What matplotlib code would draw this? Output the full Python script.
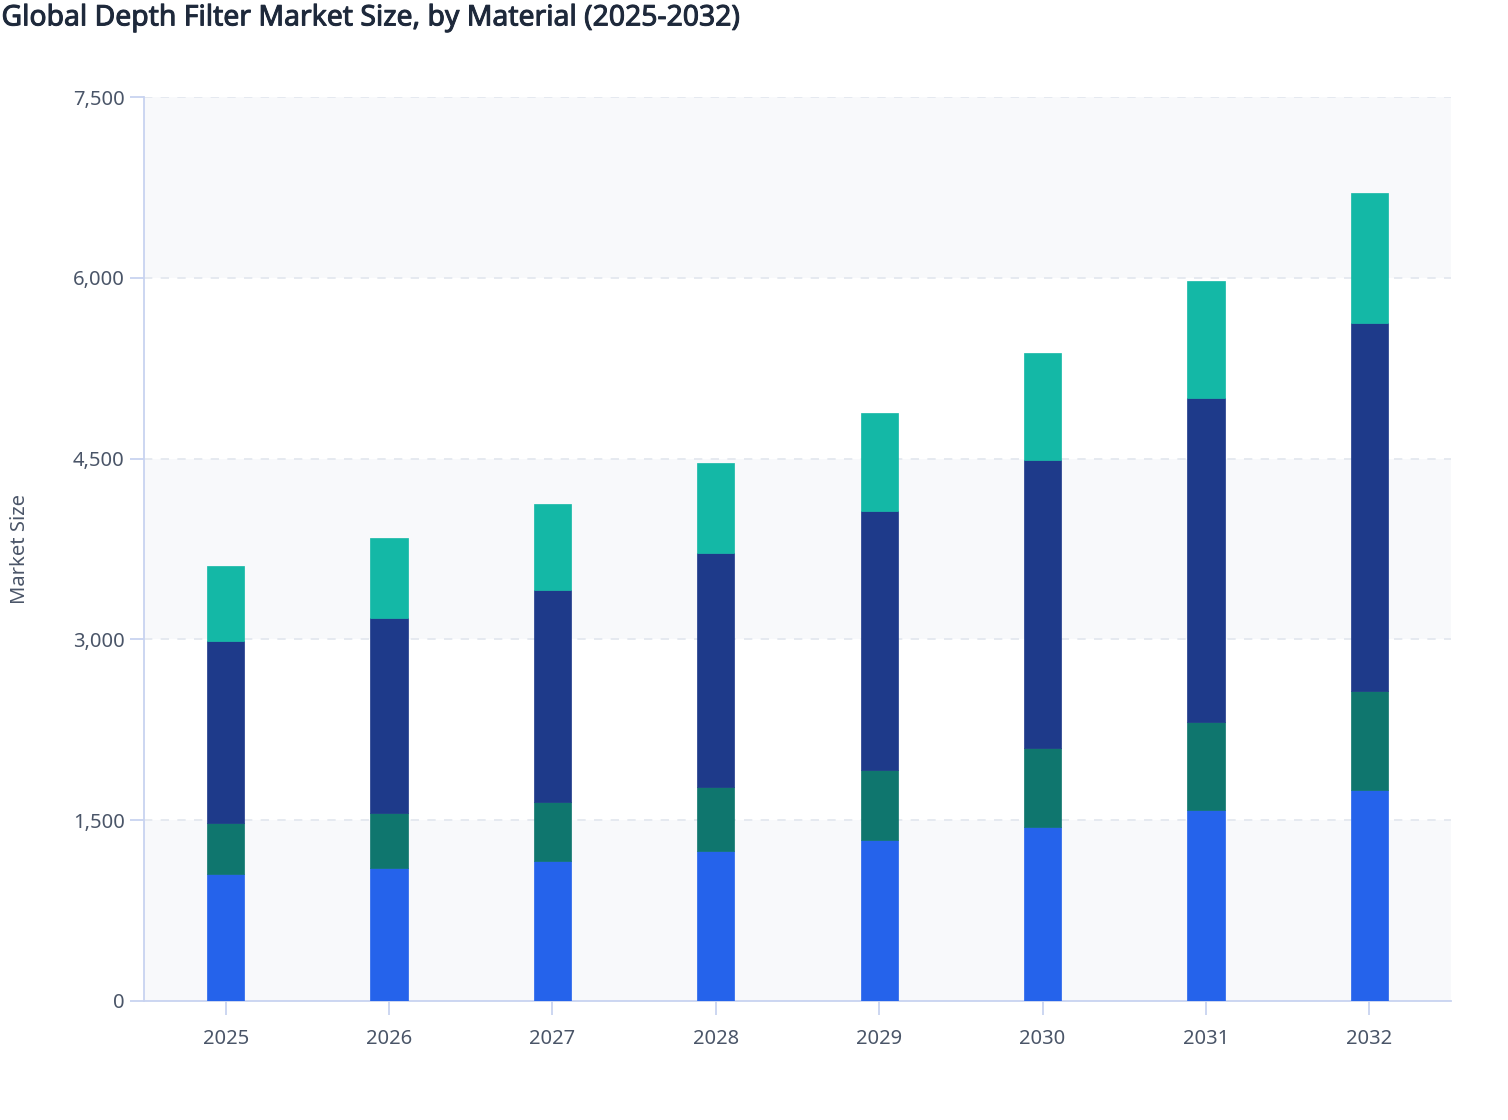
import matplotlib
matplotlib.use("Agg")
import matplotlib.pyplot as plt
import matplotlib.patheffects as pe
import numpy as np

years = ["2025", "2026", "2027", "2028", "2029", "2030", "2031", "2032"]
seg1 = [1054, 1103, 1162, 1245, 1336, 1444, 1585, 1751]   # bright blue
seg2 = [423, 457, 489, 531, 581, 655, 730, 821]           # dark green
seg3 = [1510, 1618, 1759, 1941, 2149, 2390, 2688, 3053]   # navy
seg4 = [622, 664, 714, 747, 813, 887, 971, 1079]          # teal
colors = ["#2563eb", "#0f766e", "#1e3a8a", "#14b8a6"]
yticks = [0, 1500, 3000, 4500, 6000, 7500]
ytick_labels = ["0", "1,500", "3,000", "4,500", "6,000", "7,500"]

plt.rcParams['font.family'] = ['Noto Sans', 'DejaVu Sans']

fig = plt.figure(figsize=(15.08, 11.2), dpi=100)
ax = fig.add_axes([144/1508, 119/1120, (1451-144)/1508, (1001-97)/1120])

x = np.arange(len(years))
bottom = np.zeros(len(years))
for vals, c in zip([seg1, seg2, seg3, seg4], colors):
    ax.bar(x, vals, width=0.228, bottom=bottom, color=c, edgecolor=c, linewidth=0.5, zorder=3)
    bottom += np.array(vals)

ax.set_xlim(-0.5, len(years) - 0.5)
ax.set_ylim(0, 7500)

# alternating bands
for i in range(len(yticks) - 1):
    if i % 2 == 0:
        ax.axhspan(yticks[i], yticks[i+1], color="#f8f9fb", zorder=0, lw=0)

for yv in yticks[1:]:
    ax.axhline(yv, color="#e2e6ee", lw=1.2, ls=(0, (5, 5)), zorder=1)

ax.set_xticks(x)
ax.set_xticklabels(years)
ax.set_yticks(yticks)
ax.set_yticklabels(ytick_labels)

axis_color = "#c8d3f0"
for s in ["top", "right"]:
    ax.spines[s].set_visible(False)
ax.spines["left"].set_color(axis_color)
ax.spines["bottom"].set_color(axis_color)
ax.spines["left"].set_linewidth(1.3)
ax.spines["bottom"].set_linewidth(1.3)
ax.tick_params(axis="both", colors=axis_color, length=10, width=1.3, labelsize=14.5,
               labelcolor="#4a5568", pad=4)
ax.tick_params(axis="x", pad=10)

ax.set_ylabel("Market Size", fontsize=14.5, color="#4a5568", labelpad=31)

title_color = "#1e293b"
fig.text(0.001, 0.984, "Global Depth Filter Market Size, by Material (2025-2032)",
         fontsize=20.4, color=title_color, ha="left", va="center",
         path_effects=[pe.withStroke(linewidth=0.7, foreground=title_color)])

fig.savefig("out.png", dpi=100, facecolor="white")
